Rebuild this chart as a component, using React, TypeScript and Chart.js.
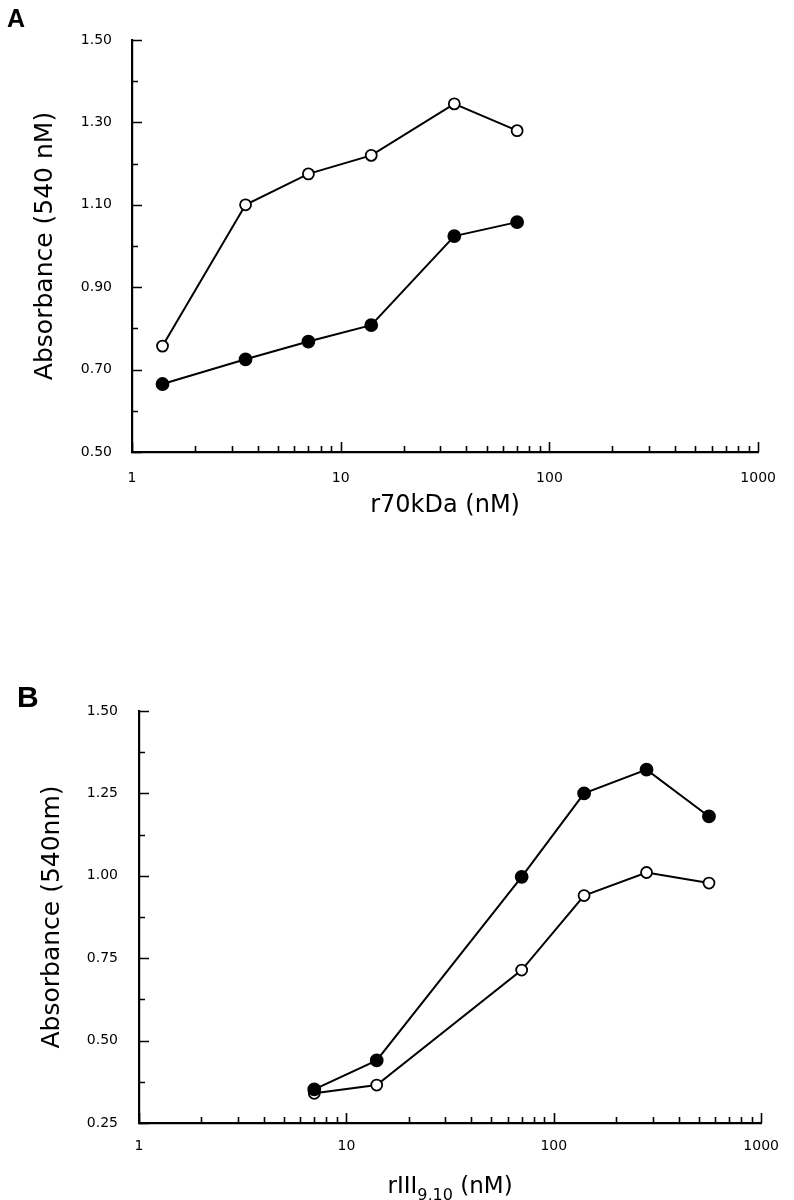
import React, { useEffect, useRef } from "react";
import { Chart, registerables } from "chart.js";

Chart.register(...registerables);

// ---------- Data ----------
// Panel A: r70kDa (nM)
const xA = [1.4, 3.5, 7, 14, 35, 70];
const openA = [0.757, 1.1, 1.175, 1.22, 1.345, 1.28];
const filledA = [0.665, 0.725, 0.768, 0.808, 1.024, 1.058];

// Panel B: rIII9,10 (nM)
const xB = [7, 14, 70, 140, 280, 560];
const filledB = [0.352, 0.44, 0.997, 1.25, 1.322, 1.18];
const openB = [0.34, 0.365, 0.714, 0.94, 1.01, 0.978];

// Axis ticks
const xMajorTicks = [1, 10, 100, 1000];
const xMinorTicks = [2, 3, 4, 5, 6, 7, 8, 9, 20, 30, 40, 50, 60, 70, 80, 90, 200, 300, 400, 500, 600, 700, 800, 900];
const yTicksA = [0.5, 0.7, 0.9, 1.1, 1.3, 1.5];
const yMinorA = [0.6, 0.8, 1.0, 1.2, 1.4];
const yTicksB = [0.25, 0.5, 0.75, 1.0, 1.25, 1.5];
const yMinorB = [0.375, 0.625, 0.875, 1.125, 1.375];

const yTitleA = "Absorbance (540 nM)";
const xTitleA = "r70kDa (nM)";
const yTitleB = "Absorbance (540nm)";
const xTitleBParts = ["rIII", "9,10", " (nM)"];

const FONT = '"DejaVu Sans", "Liberation Sans", Arial, sans-serif';

// ---------- Plugins ----------
const insideTicks = {
  id: "insideTicks",
  afterDraw(chart: any, _args: any, opts: any) {
    const { ctx, chartArea } = chart;
    const x = chart.scales.x;
    const y = chart.scales.y;
    ctx.save();
    ctx.strokeStyle = "#000";
    ctx.lineWidth = 1.6;
    ctx.beginPath();
    const L = chartArea.left;
    const B = chartArea.bottom;
    (opts.yMajor || []).forEach((v: number) => {
      const p = Math.round(y.getPixelForValue(v)) + 0.5;
      ctx.moveTo(L, p);
      ctx.lineTo(L + 10, p);
    });
    (opts.yMinor || []).forEach((v: number) => {
      const p = Math.round(y.getPixelForValue(v)) + 0.5;
      ctx.moveTo(L, p);
      ctx.lineTo(L + 6, p);
    });
    (opts.xMajor || []).forEach((v: number) => {
      const p = Math.round(x.getPixelForValue(v)) + 0.5;
      ctx.moveTo(p, B);
      ctx.lineTo(p, B - 10);
    });
    (opts.xMinor || []).forEach((v: number) => {
      const p = Math.round(x.getPixelForValue(v)) + 0.5;
      ctx.moveTo(p, B);
      ctx.lineTo(p, B - 6);
    });
    ctx.stroke();
    ctx.restore();
  },
};

const richXTitle = {
  id: "richXTitle",
  afterDraw(chart: any, _args: any, opts: any) {
    if (!opts || !opts.parts) return;
    const { ctx } = chart;
    const x = chart.scales.x;
    const [main, sub, tail] = opts.parts as string[];
    const bigFont = `${opts.size}px ${FONT}`;
    const smallFont = `${opts.subSize}px ${FONT}`;
    ctx.save();
    ctx.fillStyle = "#000";
    ctx.textBaseline = "alphabetic";
    ctx.textAlign = "left";
    ctx.font = bigFont;
    const w1 = ctx.measureText(main).width;
    const w3 = ctx.measureText(tail).width;
    ctx.font = smallFont;
    const w2 = ctx.measureText(sub).width;
    const total = w1 + w2 + w3;
    const cx = (x.left + x.right) / 2;
    let px = cx - total / 2;
    const baseY = x.bottom - opts.bottomOffset;
    ctx.font = bigFont;
    ctx.fillText(main, px, baseY);
    px += w1;
    ctx.font = smallFont;
    ctx.fillText(sub, px, baseY + opts.subDrop);
    px += w2;
    ctx.font = bigFont;
    ctx.fillText(tail, px, baseY);
    ctx.restore();
  },
};

// ---------- Config builder ----------
function buildConfig(p: {
  xs: number[];
  first: { values: number[]; filled: boolean };
  second: { values: number[]; filled: boolean };
  yMin: number;
  yMax: number;
  yTicks: number[];
  yMinor: number[];
  yWidth: number;
  xHeight: number;
  padTop: number;
  padRight: number;
  yTitle: string;
  yTitleSize: number;
  yTitlePad: number;
  xTitle?: string;
  xTitlePad?: number;
  yLabelPad: number;
  xLabelPad: number;
  rich?: any;
  lineWidth: number;
}) {
  const mk = (d: { values: number[]; filled: boolean }) => ({
    data: p.xs.map((xv, i) => ({ x: xv, y: d.values[i] })),
    showLine: true,
    borderColor: "#000",
    borderWidth: p.lineWidth,
    tension: 0,
    pointStyle: "circle",
    pointRadius: d.filled ? 6 : 5.5,
    pointBorderWidth: 1.8,
    pointBorderColor: "#000",
    pointBackgroundColor: d.filled ? "#000" : "#fff",
    clip: false as any,
  });
  return {
    type: "scatter" as const,
    data: { datasets: [mk(p.first), mk(p.second)] },
    options: {
      responsive: false,
      animation: false,
      events: [],
      layout: { padding: { top: p.padTop, right: p.padRight, left: 0, bottom: 0 } },
      plugins: {
        legend: { display: false },
        tooltip: { enabled: false },
        insideTicks: { yMajor: p.yTicks, yMinor: p.yMinor, xMajor: xMajorTicks, xMinor: xMinorTicks },
        richXTitle: p.rich || {},
      },
      scales: {
        x: {
          type: "logarithmic",
          min: 1,
          max: 1000,
          afterBuildTicks: (s: any) => {
            s.ticks = xMajorTicks.map((v) => ({ value: v, major: true }));
          },
          afterFit: (s: any) => {
            s.height = p.xHeight;
          },
          grid: { display: true, drawOnChartArea: false, drawTicks: false },
          border: { display: true, color: "#000", width: 2.2 },
          ticks: {
            color: "#000",
            padding: p.xLabelPad,
            maxRotation: 0,
            autoSkip: false,
            font: { family: FONT, size: 14 },
            callback: (v: any) => String(v),
          },
          title: p.xTitle
            ? {
                display: true,
                text: p.xTitle,
                color: "#000",
                font: { family: FONT, size: 24 },
                padding: { top: 0, bottom: p.xTitlePad },
              }
            : { display: false },
        },
        y: {
          type: "linear",
          min: p.yMin,
          max: p.yMax,
          afterBuildTicks: (s: any) => {
            s.ticks = p.yTicks.map((v) => ({ value: v }));
          },
          afterFit: (s: any) => {
            s.width = p.yWidth;
          },
          grid: { display: true, drawOnChartArea: false, drawTicks: false },
          border: { display: true, color: "#000", width: 2.2 },
          ticks: {
            color: "#000",
            padding: p.yLabelPad,
            font: { family: FONT, size: 14 },
            callback: (v: any) => Number(v).toFixed(2),
          },
          title: {
            display: true,
            text: p.yTitle,
            color: "#000",
            font: { family: FONT, size: p.yTitleSize },
            padding: { top: p.yTitlePad, bottom: 0 },
          },
        },
      },
    },
    plugins: [insideTicks, richXTitle],
  };
}

function ChartCanvas({ width, height, config }: { width: number; height: number; config: any }) {
  const ref = useRef<HTMLCanvasElement | null>(null);
  useEffect(() => {
    if (!ref.current) return;
    const chart = new Chart(ref.current, config);
    return () => chart.destroy();
  }, []);
  return <canvas ref={ref} width={width} height={height} style={{ display: "block", width, height }} />;
}

export default function App() {
  const cfgA = buildConfig({
    xs: xA,
    first: { values: openA, filled: false },
    second: { values: filledA, filled: true },
    yMin: 0.5,
    yMax: 1.5,
    yTicks: yTicksA,
    yMinor: yMinorA,
    yWidth: 132,
    xHeight: 540 - 452,
    padTop: 40,
    padRight: 30,
    yTitle: yTitleA,
    yTitleSize: 25,
    yTitlePad: 30,
    xTitle: xTitleA,
    xTitlePad: 20,
    yLabelPad: 20,
    xLabelPad: 18,
    lineWidth: 2,
  });

  const cfgB = buildConfig({
    xs: xB,
    first: { values: filledB, filled: true },
    second: { values: openB, filled: false },
    yMin: 0.25,
    yMax: 1.5,
    yTicks: yTicksB,
    yMinor: yMinorB,
    yWidth: 139,
    xHeight: 560 - 483,
    padTop: 71,
    padRight: 21,
    yTitle: yTitleB,
    yTitleSize: 25,
    yTitlePad: 37,
    yLabelPad: 21,
    xLabelPad: 15,
    lineWidth: 2,
    rich: { parts: xTitleBParts, size: 23, subSize: 16, subDrop: 7, bottomOffset: 7 },
  });

  return (
    <div style={{ position: "absolute", left: 0, top: 0, width: 794, height: 1200, background: "#fff" }}>
      <div style={{ position: "absolute", left: 0, top: 0 }}>
        <ChartCanvas width={794} height={540} config={cfgA} />
      </div>
      <div style={{ position: "absolute", left: 0, top: 640 }}>
        <ChartCanvas width={794} height={560} config={cfgB} />
      </div>
      <div
        style={{
          position: "absolute",
          left: 7,
          top: 4,
          font: 'bold 25px "Liberation Sans", Arial, sans-serif',
          color: "#000",
        }}
      >
        A
      </div>
      <div
        style={{
          position: "absolute",
          left: 17,
          top: 680,
          font: 'bold 30px "Liberation Sans", Arial, sans-serif',
          color: "#000",
        }}
      >
        B
      </div>
    </div>
  );
}
